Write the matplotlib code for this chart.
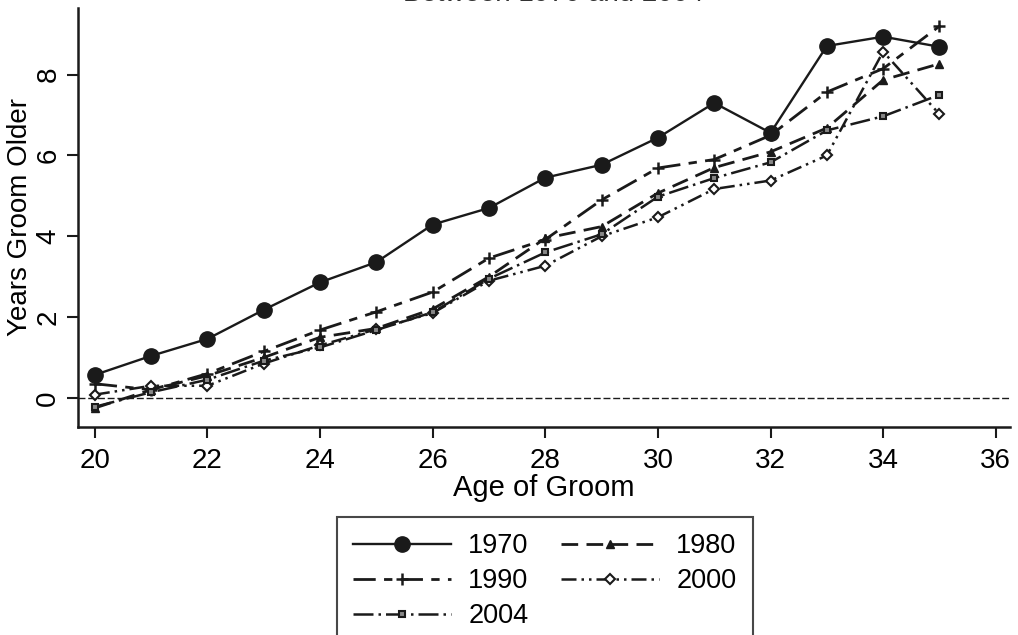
import numpy as np
import matplotlib.pyplot as plt

plt.rcParams['font.family'] = ['Liberation Sans', 'DejaVu Sans']

# ages of groom and average age gap by census year
ages = np.arange(20, 36)
y1970 = [0.57, 1.04, 1.46, 2.18, 2.86, 3.36, 4.29, 4.70, 5.45, 5.77, 6.44, 7.30, 6.56, 8.71, 8.94, 8.69]
y1980 = [-0.25, 0.20, 0.55, 1.00, 1.50, 1.72, 2.20, 3.00, 3.95, 4.24, 5.07, 5.70, 6.09, 6.68, 7.87, 8.27]
y1990 = [0.35, 0.20, 0.60, 1.15, 1.68, 2.13, 2.62, 3.46, 3.92, 4.90, 5.69, 5.90, 6.50, 7.57, 8.15, 9.20]
y2000 = [0.08, 0.30, 0.30, 0.85, 1.30, 1.70, 2.10, 2.90, 3.27, 4.00, 4.47, 5.17, 5.38, 6.00, 8.57, 7.02]
y2004 = [-0.22, 0.14, 0.45, 0.92, 1.25, 1.68, 2.12, 2.95, 3.60, 4.05, 4.98, 5.44, 5.83, 6.62, 6.97, 7.50]

xticks = [20, 22, 24, 26, 28, 30, 32, 34, 36]
yticks = [0, 2, 4, 6, 8]

fig = plt.figure(figsize=(10.18, 6.35), dpi=100)
ax = fig.add_axes([0.0766, 0.3276, 0.9154, 0.6598])

# reference line at zero
ax.axhline(0, color='#1a1a1a', lw=1.0, ls=(0, (5, 2)), zorder=1)

h70, = ax.plot(ages, y1970, color='#1a1a1a', lw=1.7, ls='-', marker='o', ms=11, label='1970', zorder=3)
h80, = ax.plot(ages, y1980, color='#1a1a1a', lw=2.0, ls=(0, (6, 3)), marker='^', ms=6, label='1980', zorder=3)
h90, = ax.plot(ages, y1990, color='#1a1a1a', lw=2.0, ls=(0, (8, 3, 3, 3)), marker='+', ms=8, mew=1.8,
               label='1990', zorder=3)
h00, = ax.plot(ages, y2000, color='#1a1a1a', lw=1.8, ls=(0, (6, 2, 1, 2, 1, 2)), marker='D', ms=5,
               mfc='white', mew=1.5, label='2000', zorder=3)
h04, = ax.plot(ages, y2004, color='#1a1a1a', lw=1.8, ls=(0, (8, 2, 1, 2)), marker='s', ms=5,
               mfc='#888888', mew=1.5, label='2004', zorder=3)

ax.set_xlim(19.7, 36.25)
ax.set_ylim(-0.72, 9.65)
ax.set_xticks(xticks)
ax.set_yticks(yticks)
ax.tick_params(axis='both', direction='out', length=8, width=1.5, labelsize=20, color='#1a1a1a')
ax.tick_params(axis='y', labelrotation=90, pad=4)
for lab in ax.get_yticklabels():
    lab.set_va('center')
ax.tick_params(axis='x', pad=7)

for s in ['top', 'right']:
    ax.spines[s].set_visible(False)
for s in ['left', 'bottom']:
    ax.spines[s].set_linewidth(1.8)
    ax.spines[s].set_color('#1a1a1a')

ax.set_xlabel('Age of Groom', fontsize=21, labelpad=0)
ax.set_ylabel('Years Groom Older', fontsize=20, labelpad=2)

# title is cut off at the top of the image, only its lower edge shows
fig.text(0.544, 1 - 1 / 635, 'Between 1970 and 2004', ha='center', va='baseline',
         fontsize=20, color='#333333')

# row-wise order: 1970 1980 / 1990 2000 / 2004
handles = [h70, h90, h04, h80, h00]
leg = fig.legend(handles, [h.get_label() for h in handles], loc='upper left',
                 bbox_to_anchor=(0.331, 0.186), ncol=2, fontsize=19.5,
                 frameon=True, fancybox=False, edgecolor='#1a1a1a', handlelength=3.6,
                 handletextpad=0.65, columnspacing=1.2, labelspacing=0.33, borderpad=0.6,
                 borderaxespad=0)
leg.get_frame().set_linewidth(1.5)

fig.savefig('out.png', dpi=100)
